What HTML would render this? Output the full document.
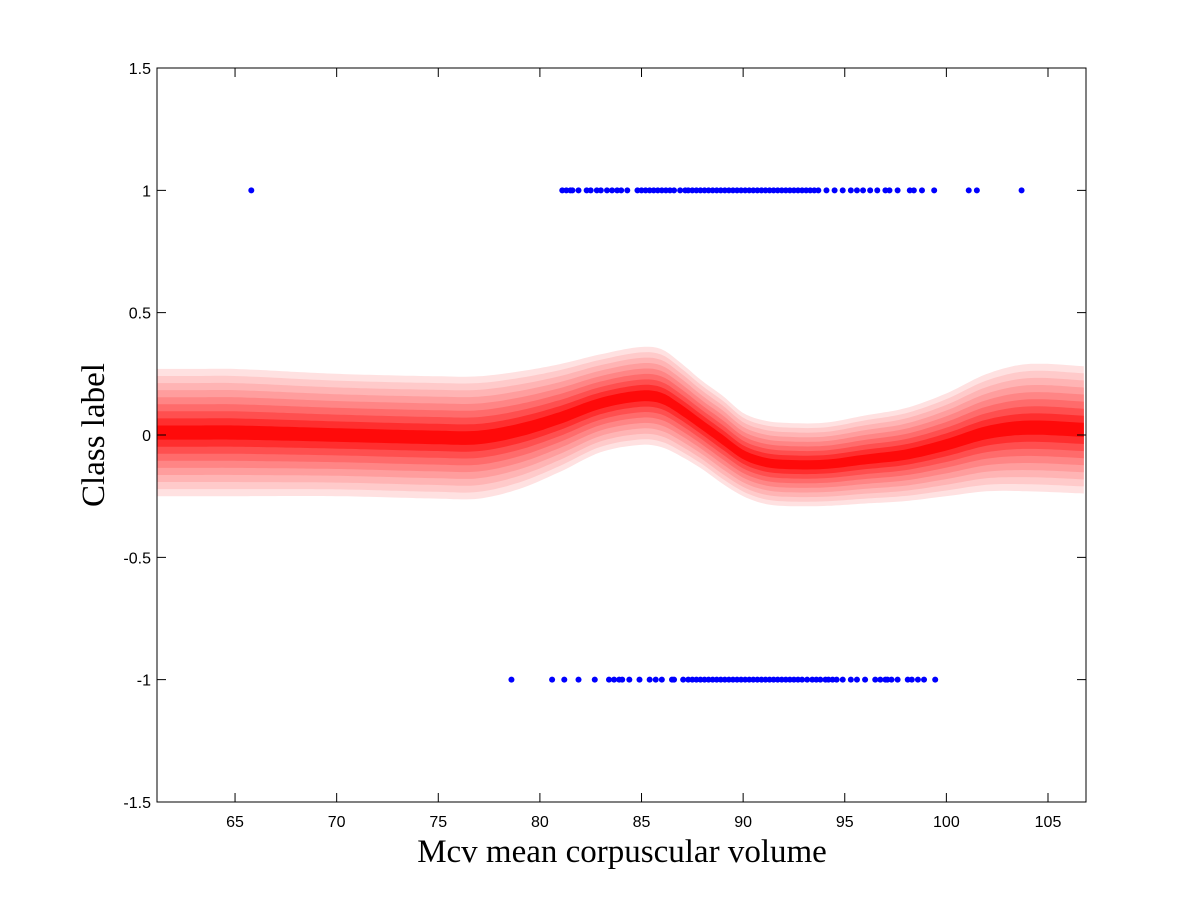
<!DOCTYPE html>
<html><head><meta charset="utf-8"><style>
body{margin:0;background:#fff}
svg text{font-family:"Liberation Sans",sans-serif}
</style></head><body>
<svg id="chart" width="1200" height="901" xmlns="http://www.w3.org/2000/svg">
<rect width="1200" height="901" fill="#fff"/>
<g id="band"></g>
<g id="pts"></g>
<rect x="157" y="68" width="929" height="734" fill="none" stroke="#000" stroke-width="1"/>
<g id="ticks"></g>
<text x="622" y="862" text-anchor="middle" style="font-family:'Liberation Serif',serif;font-size:33px">Mcv mean corpuscular volume</text>
<text transform="translate(104,435) rotate(-90)" text-anchor="middle" style="font-family:'Liberation Serif',serif;font-size:33px">Class label</text>
</svg>
<script>
const xTicks=[65,70,75,80,85,90,95,100,105];
const yTicks=[1.5,1,0.5,0,-0.5,-1,-1.5];
const gridX=[61,63,65,70,75,77,79,81,83,85,86,87,88,89,90,91,92,94,96,98,100,102,104,107];
const meanY=[0.01,0.01,0.01,0.0,-0.01,-0.01,0.02,0.07,0.13,0.16,0.15,0.1,0.04,-0.02,-0.08,-0.11,-0.12,-0.12,-0.1,-0.08,-0.04,0.01,0.03,0.02];
const halfW=[0.26,0.26,0.26,0.25,0.25,0.25,0.24,0.22,0.2,0.2,0.2,0.19,0.18,0.18,0.17,0.17,0.17,0.17,0.18,0.19,0.21,0.24,0.26,0.26];
const posX=[65.8,81.1,81.3,81.5,81.6,81.9,82.3,82.5,82.8,83.0,83.3,83.55,83.8,84.0,84.3,84.8,85.0,85.2,85.4,85.6,85.8,86.0,86.2,86.4,86.6,86.9,87.15,87.3,87.5,87.7,87.9,88.1,88.3,88.5,88.7,88.9,89.1,89.3,89.5,89.7,89.9,90.1,90.3,90.5,90.7,90.9,91.1,91.3,91.5,91.7,91.9,92.1,92.3,92.5,92.7,92.9,93.1,93.3,93.5,93.7,94.1,94.5,94.9,95.3,95.6,95.9,96.25,96.6,97.0,97.2,97.6,98.2,98.4,98.8,99.4,101.1,101.5,103.7];
const negX=[78.6,80.6,81.2,81.9,82.7,83.4,83.65,83.9,84.05,84.4,84.9,85.4,85.7,86.0,86.5,86.6,87.05,87.3,87.5,87.7,87.9,88.1,88.3,88.5,88.7,88.9,89.1,89.3,89.5,89.7,89.9,90.1,90.3,90.5,90.7,90.9,91.1,91.3,91.5,91.7,91.9,92.1,92.3,92.5,92.7,92.9,93.15,93.4,93.6,93.8,94.05,94.2,94.4,94.6,94.9,95.3,95.6,96.0,96.5,96.75,97.0,97.1,97.3,97.6,98.1,98.3,98.6,98.9,99.45];
const xMin=61.16,xMax=106.87,yMin=-1.5,yMax=1.5;
const L=157,R=1086,T=68,B=802;
const sx=v=>L+(v-xMin)/(xMax-xMin)*(R-L);
const sy=v=>B-(v-yMin)/(yMax-yMin)*(B-T);
const NS="http://www.w3.org/2000/svg";
function slopes(xs,ys){
  const n=xs.length,m=[];
  for(let i=0;i<n;i++){
    if(i===0)m.push((ys[1]-ys[0])/(xs[1]-xs[0]));
    else if(i===n-1)m.push((ys[n-1]-ys[n-2])/(xs[n-1]-xs[n-2]));
    else m.push((ys[i+1]-ys[i-1])/(xs[i+1]-xs[i-1]));
  }
  return m;
}
function interp(xs,ys,m,x){
  let i=0;while(i<xs.length-2&&x>xs[i+1])i++;
  const h=xs[i+1]-xs[i],t=(x-xs[i])/h,t2=t*t,t3=t2*t;
  return (2*t3-3*t2+1)*ys[i]+(t3-2*t2+t)*h*m[i]+(-2*t3+3*t2)*ys[i+1]+(t3-t2)*h*m[i+1];
}
const mM=slopes(gridX,meanY),mH=slopes(gridX,halfW);
const band=document.getElementById('band');
const colors=['#ffe1e1','#ffcaca','#ffb4b4','#ff9d9d','#ff8585','#ff6b6b','#ff4f4f','#ff2e2e','#ff0a0a'];
const levels=colors.length;
for(let k=levels;k>=1;k--){
  const f=k/levels;
  let top=[],bot=[];
  for(let x=xMin;x<=xMax+0.001;x+=0.2){
    const mu=interp(gridX,meanY,mM,x),hw=interp(gridX,halfW,mH,x);
    const px=sx(x).toFixed(1);
    top.push(px+','+sy(mu+hw*f).toFixed(1));
    bot.unshift(px+','+sy(mu-hw*f).toFixed(1));
  }
  const p=document.createElementNS(NS,'polygon');
  
  
  p.setAttribute('points',top.concat(bot).join(' '));
  p.setAttribute('fill',colors[levels-k]);
  band.appendChild(p);
}
const pts=document.getElementById('pts');
function dot(v,cls){
  const c=document.createElementNS(NS,'circle');
  
  
  c.setAttribute('cx',sx(v));c.setAttribute('cy',sy(cls));c.setAttribute('r',3);
  c.setAttribute('fill','#0000ff');
  pts.appendChild(c);
}
posX.forEach(v=>dot(v,1));
negX.forEach(v=>dot(v,-1));
const tg=document.getElementById('ticks');
xTicks.forEach(v=>{
  const x=sx(v);
  const l=document.createElementNS(NS,'path');
  
  
  l.setAttribute('d',`M${x},${B}V${B-9}M${x},${T}V${T+9}`);l.setAttribute('stroke','#000');
  tg.appendChild(l);
  const t=document.createElementNS(NS,'text');
  
  
  t.setAttribute('x',x);t.setAttribute('y',B+25);t.setAttribute('text-anchor','middle');t.setAttribute('font-size','16');
  t.textContent=v;tg.appendChild(t);
});
yTicks.forEach(v=>{
  const y=sy(v);
  const l=document.createElementNS(NS,'path');
  
  
  l.setAttribute('d',`M${L},${y}H${L+9}M${R},${y}H${R-9}`);l.setAttribute('stroke','#000');
  tg.appendChild(l);
  const t=document.createElementNS(NS,'text');
  
  
  t.setAttribute('x',L-6);t.setAttribute('y',y+6);t.setAttribute('text-anchor','end');t.setAttribute('font-size','16');
  t.textContent=v;tg.appendChild(t);
});
</script>
</body></html>
